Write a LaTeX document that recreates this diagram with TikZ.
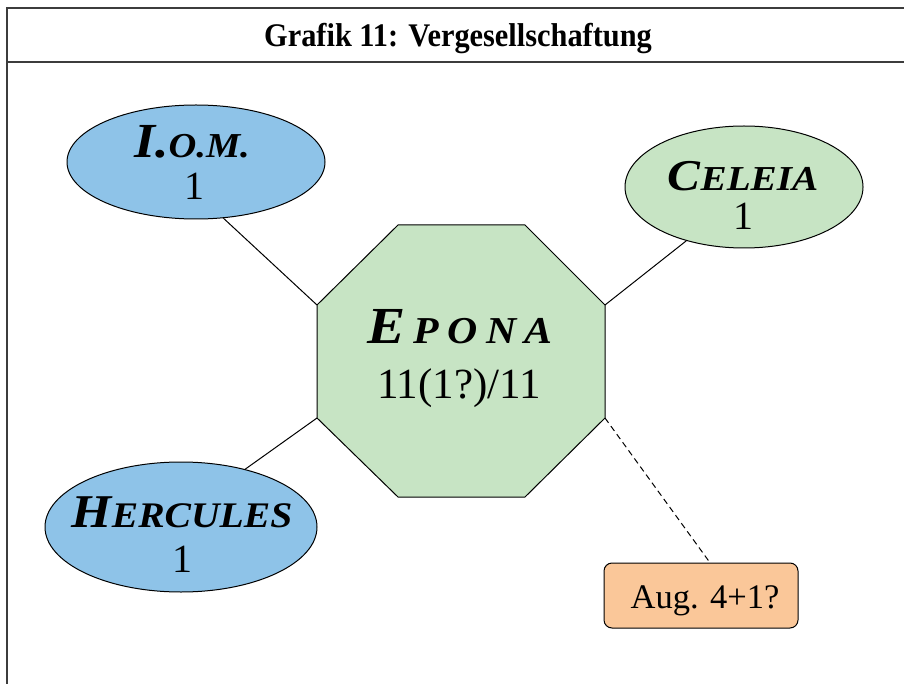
\documentclass[tikz,border=0pt]{standalone}
\usepackage{fontspec}
\setmainfont{Liberation Serif}
\usetikzlibrary{shapes.geometric}
\newcommand{\myfs}[1]{\fontsize{#1}{#1}\selectfont}
\definecolor{ellblue}{RGB}{142,195,232}
\definecolor{octgreen}{RGB}{199,228,196}
\definecolor{augorange}{RGB}{250,199,153}
\definecolor{framegray}{RGB}{60,60,60}
\begin{document}
\begin{tikzpicture}[x=1pt,y=-1pt,
  frameline/.style={draw=framegray,line width=1.6pt},
  godnode/.style={ellipse,draw=black,line width=1pt,inner sep=0pt},
  linkline/.style={draw=black,line width=1pt},
  lbl/.style={anchor=base,inner sep=0pt,outer sep=0pt}]
\useasboundingbox (0,0) rectangle (904,684);
\clip (0,0) rectangle (904,684);
% frame
\draw[frameline] (7,8) rectangle (915,695);
\draw[frameline] (7,62) -- (915,62);
\node[lbl] (title) at (458,47) {\scalebox{0.92}[1]{\myfs{33}\bfseries Grafik 11: Vergesellschaftung}};
% octagon
\coordinate (o1) at (398,225);
\coordinate (o2) at (525,225);
\coordinate (o3) at (605,305);
\coordinate (o4) at (605,418);
\coordinate (o5) at (525,497);
\coordinate (o6) at (398,497);
\coordinate (o7) at (317,418);
\coordinate (o8) at (317,305);
\draw[fill=octgreen,line width=1pt,line join=miter] (o1)--(o2)--(o3)--(o4)--(o5)--(o6)--(o7)--(o8)--cycle;
\node[lbl] (eponaname) at (460,343) {\scalebox{1.1}[1]{\bfseries\itshape{\myfs{52}E}\kern7.5pt{\myfs{38}P\kern7.5pt O\kern7.5pt N\kern7.5pt A}}};
\node[lbl] (eponanum) at (459,398) {\myfs{43}11(1?)/11};
% ellipses
\node[godnode,fill=ellblue,minimum width=258pt,minimum height=114pt] (iom) at (196,162) {};
\node[lbl] (iomname) at (192,158) {\scalebox{1.1}[1]{\bfseries\itshape{\myfs{49}I.}{\myfs{35}O.M.}}};
\node[lbl] (iomnum) at (194,200) {\myfs{40}1};
\node[godnode,fill=octgreen,minimum width=238pt,minimum height=122pt] (celeia) at (744,187) {};
\node[lbl] (celeianame) at (743,191) {\scalebox{1.12}[1]{\bfseries\itshape{\myfs{44}C}{\myfs{35}ELEIA}}};
\node[lbl] (celeianum) at (743,230) {\myfs{40}1};
\node[godnode,fill=ellblue,minimum width=272pt,minimum height=130pt] (herc) at (181,527) {};
\node[lbl] (hercname) at (182,527) {\scalebox{1.1}[1]{\bfseries\itshape{\myfs{47}H}{\myfs{36}ERCULES}}};
\node[lbl] (hercnum) at (182,572) {\myfs{40}1};
% Aug box
\node[draw=black,line width=1pt,fill=augorange,rounded corners=8pt,minimum width=194pt,minimum height=65pt,inner sep=0pt] (aug) at (701,595.5) {};
\node[lbl] (augtext) at (705,608) {\myfs{34.5}Aug. 4+1?};
% connectors
\draw[linkline] (iom.-64) -- (o8);
\draw[linkline] (celeia.-137) -- (o3);
\draw[linkline] (herc.42) -- (o7);
\draw[linkline,dashed,dash pattern=on 6pt off 4pt] (o4) -- (aug.75);
\end{tikzpicture}
\end{document}
